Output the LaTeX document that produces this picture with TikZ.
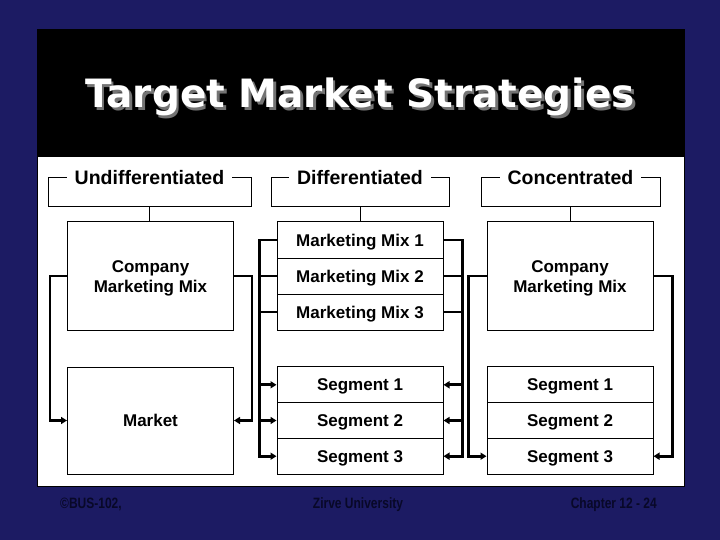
\documentclass[tikz,border=0pt]{standalone}
\usepackage{fontspec}
\setmainfont{Liberation Sans}
\newfontfamily\titlefont{DejaVu Sans}
\usetikzlibrary{arrows.meta}
\definecolor{navy}{RGB}{28,27,99}
\definecolor{footc}{RGB}{8,8,40}
\begin{document}
\begin{tikzpicture}[x=1pt,y=-1pt,
  box/.style={draw=black,line width=1pt,fill=white,inner sep=0pt,minimum width=166pt,
    font=\bfseries\fontsize{17}{20.5}\selectfont,text height=12.2pt,text depth=0pt},
  bigbox/.style={box,minimum height=108pt},
  cell/.style={box,minimum height=35.7pt},
  bracket/.style={draw=black,line width=1pt,inner sep=0pt,minimum height=29pt},
  hlabel/.style={fill=white,inner xsep=8pt,inner ysep=0pt,
    font=\bfseries\fontsize{19.5}{23}\selectfont,text height=14pt,text depth=0pt},
  twoline/.style={align=center,inner sep=0pt,font=\bfseries\fontsize{17}{20.5}\selectfont},
  thinline/.style={line width=1pt},
  conn/.style={line width=2.8pt},
  arr/.style={conn,-{Triangle[length=6pt,width=7pt]}},
  foot/.style={text=footc,inner sep=0pt,font=\bfseries\fontsize{15}{17}\selectfont},
  titletext/.style={inner sep=0pt,anchor=base,font=\titlefont\bfseries\fontsize{39}{44}\selectfont}
]
\useasboundingbox (0,0) rectangle (720,540);
\fill[navy] (0,0) rectangle (720,540);
\draw[fill=white,draw=black,line width=1pt] (37,30) rectangle (684,486);
\fill[black] (37,30) rectangle (684,157);

% title
\node[titletext,text=black!55] (tshadow) at (362.5,110.5) {Target Market Strategies};
\node[titletext,text=white] (title) at (360,108) {Target Market Strategies};

% header brackets
\node[bracket,minimum width=203pt] (hU) at (149.5,192.5) {};
\node[hlabel] (lU) at (hU.north) {Undifferentiated};
\node[bracket,minimum width=178pt] (hD) at (360,192.5) {};
\node[hlabel] (lD) at (hD.north) {Differentiated};
\node[bracket,minimum width=179pt] (hC) at (570.5,192.5) {};
\node[hlabel] (lC) at (hC.north) {Concentrated};

% undifferentiated column
\node[bigbox] (cmmA) at (150.5,276) {};
\node[twoline] (cmmAt) at ([yshift=-2.5pt]cmmA.center) {Company\\Marketing Mix};
\node[bigbox,minimum height=107pt] (mkt) at (150.5,420.5) {Market};

% differentiated column
\node[cell,minimum height=36pt] (mm1) at (360,240) {Marketing Mix 1};
\node[cell,minimum height=36pt] (mm2) at (360,276) {Marketing Mix 2};
\node[cell,minimum height=36pt] (mm3) at (360,312) {Marketing Mix 3};
\node[cell] (sg1) at (360,384.8) {Segment 1};
\node[cell] (sg2) at (360,420.5) {Segment 2};
\node[cell] (sg3) at (360,456.2) {Segment 3};

% concentrated column
\node[bigbox] (cmmC) at (570,276) {};
\node[twoline] (cmmCt) at ([yshift=-2.5pt]cmmC.center) {Company\\Marketing Mix};
\node[cell] (cs1) at (570,384.8) {Segment 1};
\node[cell] (cs2) at (570,420.5) {Segment 2};
\node[cell] (cs3) at (570,456.2) {Segment 3};

% bracket stems
\draw[thinline] (hU.south) -- (hU.south |- cmmA.north);
\draw[thinline] (hD.south) -- (mm1.north);
\draw[thinline] (hC.south) -- (hC.south |- cmmC.north);

% undifferentiated connectors
\draw[arr] (cmmA.west) -- ++(-17,0) |- (mkt.west);
\draw[arr] (cmmA.east) -- ++(18,0) |- (mkt.east);

% differentiated connectors
\draw[arr] (mm1.west) -- ++(-17,0) coordinate (bL) |- (sg3.west);
\draw[conn] (mm2.west) -- (mm2.west -| bL);
\draw[conn] (mm3.west) -- (mm3.west -| bL);
\draw[arr] (sg1.west -| bL) -- (sg1.west);
\draw[arr] (sg2.west -| bL) -- (sg2.west);
\draw[arr] (mm1.east) -- ++(19,0) coordinate (bR) |- (sg3.east);
\draw[conn] (mm2.east) -- (mm2.east -| bR);
\draw[conn] (mm3.east) -- (mm3.east -| bR);
\draw[arr] (sg1.east -| bR) -- (sg1.east);
\draw[arr] (sg2.east -| bR) -- (sg2.east);

% concentrated connectors
\draw[arr] (cmmC.west) -- ++(-18,0) |- (cs3.west);
\draw[arr] (cmmC.east) -- ++(19,0) |- (cs3.east);

% footer
\node[foot,anchor=base west] (f1) at (60,508) {\scalebox{0.8}[1]{\textcopyright BUS-102,}};
\node[foot,anchor=base] (f2) at (358,508) {\scalebox{0.8}[1]{Zirve University}};
\node[foot,anchor=base east] (f3) at (657,508) {\scalebox{0.8}[1]{Chapter 12 - 24}};
\end{tikzpicture}
\end{document}
